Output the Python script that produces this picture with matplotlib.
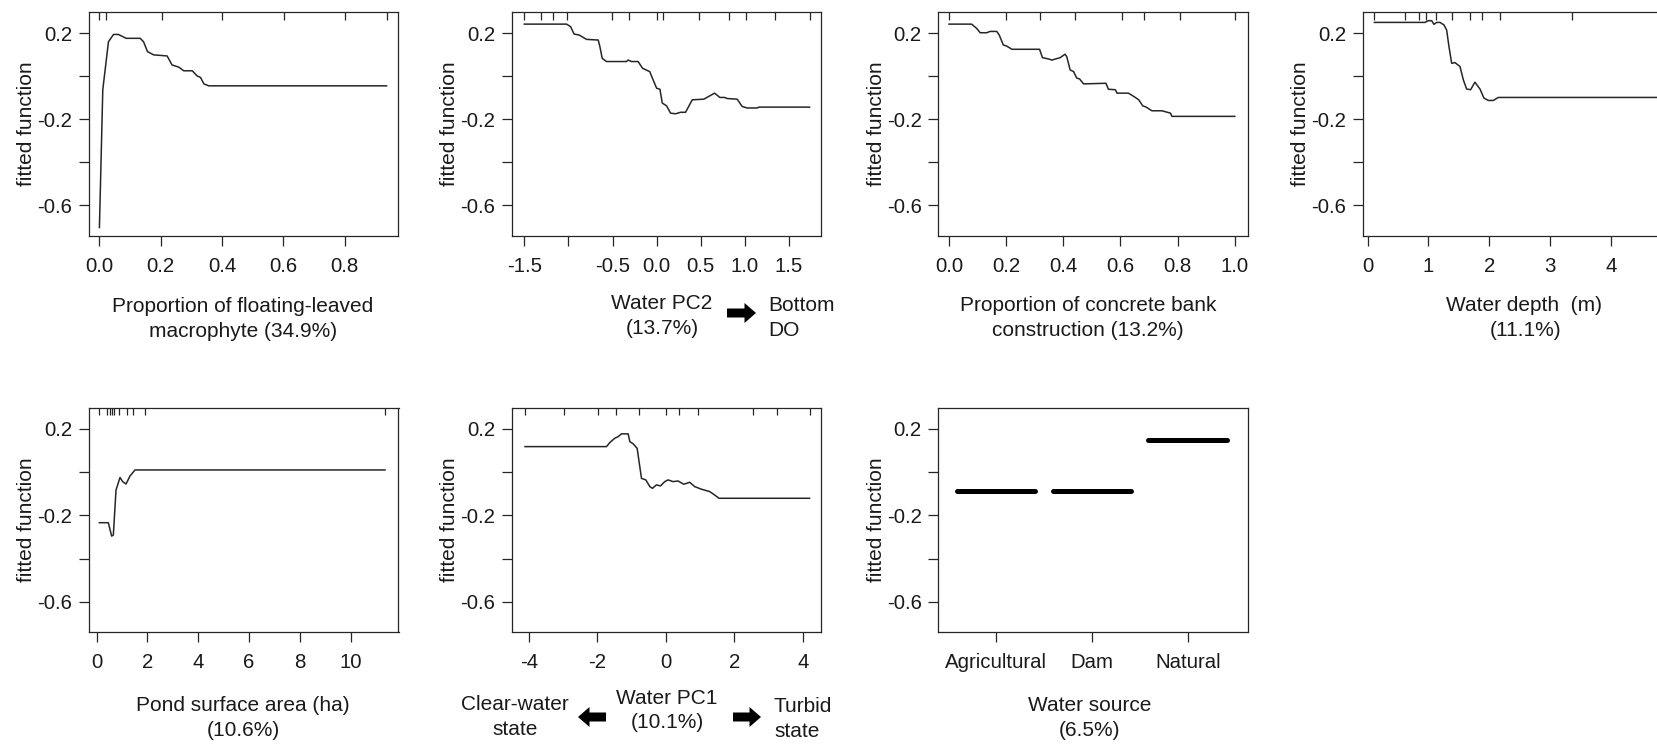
import matplotlib
matplotlib.use("Agg")
import matplotlib.pyplot as plt
from matplotlib.patches import Polygon

plt.rcParams['font.family'] = ['Liberation Sans', 'DejaVu Sans']

# ---------------- data ----------------
float_x = [0.0, 0.011, 0.0295, 0.046, 0.062, 0.087, 0.133, 0.144, 0.157, 0.177, 0.221,
           0.237, 0.259, 0.275, 0.303, 0.319, 0.33, 0.341, 0.357, 0.937]
float_y = [-0.703, -0.062, 0.161, 0.195, 0.195, 0.177, 0.177, 0.161, 0.115, 0.100, 0.095,
           0.053, 0.043, 0.026, 0.026, 0.002, -0.005, -0.035, -0.044, -0.044]
float_rug = [0.0, 0.022, 0.203, 0.401, 0.601, 0.8, 0.937]

pc2_x = [-1.5, -1.02, -0.975, -0.936, -0.877, -0.794, -0.662, -0.643, -0.617, -0.568, -0.342,
         -0.323, -0.285, -0.21, -0.16, -0.078, -0.04, 0.0, 0.038, 0.064, 0.113, 0.158, 0.215,
         0.272, 0.328, 0.404, 0.536, 0.592, 0.657, 0.717, 0.77, 0.8, 0.913, 0.97, 1.026, 1.14,
         1.16, 1.734]
pc2_y = [0.243, 0.243, 0.231, 0.197, 0.192, 0.172, 0.169, 0.138, 0.084, 0.069, 0.069,
         0.076, 0.069, 0.069, 0.038, 0.022, -0.016, -0.055, -0.06, -0.124, -0.137, -0.171, -0.174,
         -0.167, -0.167, -0.109, -0.106, -0.093, -0.078, -0.098, -0.098, -0.103, -0.106, -0.14,
         -0.147, -0.147, -0.143, -0.143]
pc2_rug = [-1.5, -1.311, -1.179, -1.02, -0.511, -0.311, 0.0, 0.075, 0.479, 0.819, 1.008, 1.34, 1.734]

conc_x = [0.0, 0.079, 0.097, 0.109, 0.132, 0.144, 0.167, 0.176, 0.19, 0.202, 0.22, 0.317, 0.327,
          0.348, 0.36, 0.389, 0.406, 0.412, 0.424, 0.436, 0.447, 0.457, 0.471, 0.549, 0.558,
          0.582, 0.588, 0.628, 0.652, 0.664, 0.678, 0.69, 0.71, 0.745, 0.775, 0.78, 1.0]
conc_y = [0.243, 0.243, 0.223, 0.203, 0.203, 0.209, 0.209, 0.192, 0.146, 0.141, 0.126, 0.126, 0.087,
          0.081, 0.076, 0.087, 0.103, 0.092, 0.03, 0.022, -0.008, -0.012, -0.035, -0.032, -0.06,
          -0.062, -0.078, -0.078, -0.098, -0.109, -0.137, -0.143, -0.16, -0.16, -0.171, -0.186, -0.186]
conc_rug = [0.0, 0.2, 0.319, 0.442, 0.605, 0.683, 0.81, 1.0]

depth_x = [0.11, 0.942, 0.997, 1.052, 1.09, 1.134, 1.189, 1.255, 1.299, 1.337, 1.381, 1.436,
           1.518, 1.573, 1.627, 1.693, 1.764, 1.847, 1.912, 1.984, 2.066, 2.148, 4.9]
depth_y = [0.251, 0.251, 0.259, 0.259, 0.242, 0.251, 0.251, 0.239, 0.215, 0.138, 0.061, 0.064,
           0.046, -0.016, -0.059, -0.062, -0.027, -0.059, -0.101, -0.112, -0.112, -0.098, -0.098]
depth_rug = [0.11, 0.614, 0.844, 0.953, 1.118, 1.392, 1.68, 1.885, 2.175, 3.355, 4.9]

area_x = [0.105, 0.459, 0.59, 0.656, 0.761, 0.919, 1.024, 1.155, 1.312, 1.509, 11.35]
area_y = [-0.234, -0.234, -0.296, -0.291, -0.083, -0.025, -0.044, -0.055, -0.018, 0.01, 0.01]
area_rug = [0.105, 0.42, 0.525, 0.617, 0.682, 0.879, 1.207, 1.444, 1.903, 11.35]

pc1_x = [-4.11, -1.73, -1.633, -1.487, -1.39, -1.293, -1.098, -1.05, -0.952, -0.836, -0.709,
         -0.583, -0.466, -0.389, -0.272, -0.155, -0.029, 0.068, 0.214, 0.36, 0.525, 0.7, 0.845,
         1.04, 1.283, 1.429, 1.555, 4.2]
pc1_y = [0.118, 0.118, 0.137, 0.157, 0.164, 0.177, 0.177, 0.141, 0.131, 0.110, -0.029,
         -0.036, -0.067, -0.075, -0.059, -0.064, -0.044, -0.036, -0.044, -0.041, -0.056, -0.047,
         -0.067, -0.079, -0.09, -0.106, -0.121, -0.121]
pc1_rug = [-4.11, -2.97, -1.99, -1.44, -0.787, 0.019, 0.389, 0.943, 2.546, 3.256, 4.2]

source_cats = ['Agricultural', 'Dam', 'Natural']
source_vals = [-0.086, -0.086, 0.149]

y_ticks = [0.2, 0.0, -0.2, -0.4, -0.6]
y_ticklabels = ['0.2', '', '-0.2', '', '-0.6']

# ---------------- layout ----------------
W, H = 1657, 744
fig = plt.figure(figsize=(W / 100, H / 100), dpi=100)
fig.patch.set_facecolor('white')

TXT = '#1a1a1a'
LINE = '#262626'
TICKFS = 14.7
LABFS = 15

col_left = [89, 511.7, 938.3, 1362.7]
ax_w = 309.5
row_top = [12.3, 407.7]
ax_h = [223.4, 224.6]
ylim = (-0.741, 0.298)


def make_ax(col, row):
    l = col_left[col] / W
    b = 1 - (row_top[row] + ax_h[row]) / H
    ax = fig.add_axes([l, b, ax_w / W, ax_h[row] / H])
    ax.set_ylim(*ylim)
    ax.set_yticks(y_ticks)
    ax.set_yticklabels(y_ticklabels)
    ax.tick_params(direction='out', length=7, width=0.9, colors=LINE,
                   labelcolor=TXT, labelsize=TICKFS)
    ax.tick_params(axis='x', pad=8)
    ax.tick_params(axis='y', pad=5)
    for s in ax.spines.values():
        s.set_linewidth(0.9)
        s.set_color(LINE)
    ax.set_ylabel('fitted function', fontsize=LABFS, color=TXT)
    ax.yaxis.set_label_coords(-0.17, 0.5)
    return ax


def rug(ax, vals):
    ax.vlines(vals, 1 - 7.5 / 224, 1, transform=ax.get_xaxis_transform(),
              color=LINE, lw=0.9, clip_on=False)


def ftext(x_px, yc_px, s, ha='center'):
    fig.text(x_px / W, 1 - (yc_px + 7.4) / H, s, ha=ha, va='baseline',
             fontsize=LABFS, color=TXT)


def farrow(x0, x1, yc, head_len=11.5, head_half=10, tail_half=4.5):
    # block arrow drawn in figure pixels, pointing from x0 to x1
    d = 1 if x1 > x0 else -1
    xh = x1 - d * head_len
    pts_px = [(x0, yc - tail_half), (xh, yc - tail_half), (xh, yc - head_half),
              (x1, yc), (xh, yc + head_half), (xh, yc + tail_half), (x0, yc + tail_half)]
    pts = [(px / W, 1 - py / H) for px, py in pts_px]
    fig.patches.append(Polygon(pts, closed=True, transform=fig.transFigure,
                               facecolor='black', edgecolor='none'))


# Panel 1
ax = make_ax(0, 0)
ax.plot(float_x, float_y, color=LINE, lw=1.1)
rug(ax, float_rug)
ax.set_xlim(-0.034, 0.976)
ax.set_xticks([0.0, 0.2, 0.4, 0.6, 0.8])
ax.set_xticklabels(['0.0', '0.2', '0.4', '0.6', '0.8'])
ftext(243, 305, 'Proportion of floating-leaved')
ftext(243, 330, 'macrophyte (34.9%)')

# Panel 2
ax = make_ax(1, 0)
ax.plot(pc2_x, pc2_y, color=LINE, lw=1.1)
rug(ax, pc2_rug)
ax.set_xlim(-1.643, 1.866)
ax.set_xticks([-1.5, -1.0, -0.5, 0.0, 0.5, 1.0, 1.5])
ax.set_xticklabels(['-1.5', '', '-0.5', '0.0', '0.5', '1.0', '1.5'])
ftext(662, 302, 'Water PC2')
ftext(662, 327, '(13.7%)')
farrow(727, 756, 313)
ftext(768, 304, 'Bottom', ha='left')
ftext(768, 329, 'DO', ha='left')

# Panel 3
ax = make_ax(2, 0)
ax.plot(conc_x, conc_y, color=LINE, lw=1.1)
rug(ax, conc_rug)
ax.set_xlim(-0.0374, 1.0456)
ax.set_xticks([0.0, 0.2, 0.4, 0.6, 0.8, 1.0])
ax.set_xticklabels(['0.0', '0.2', '0.4', '0.6', '0.8', '1.0'])
ftext(1088, 304, 'Proportion of concrete bank')
ftext(1088, 329, 'construction (13.2%)')

# Panel 4 (cut off at right edge in the reference)
ax = make_ax(3, 0)
ax.plot(depth_x, depth_y, color=LINE, lw=1.1)
rug(ax, depth_rug)
ax.set_xlim(-0.082, 5.008)
ax.set_xticks([0, 1, 2, 3, 4])
ax.set_xticklabels(['0', '1', '2', '3', '4'])
ftext(1524, 304, 'Water depth  (m)')
ftext(1526, 329, '(11.1%)')

# Panel 5
ax = make_ax(0, 1)
ax.plot(area_x, area_y, color=LINE, lw=1.1)
rug(ax, area_rug)
ax.set_xlim(-0.302, 11.88)
ax.set_xticks([0, 2, 4, 6, 8, 10])
ax.set_xticklabels(['0', '2', '4', '6', '8', '10'])
ftext(243, 704, 'Pond surface area (ha)')
ftext(243, 729, '(10.6%)')

# Panel 6
ax = make_ax(1, 1)
ax.plot(pc1_x, pc1_y, color=LINE, lw=1.1)
rug(ax, pc1_rug)
ax.set_xlim(-4.5, 4.54)
ax.set_xticks([-4, -2, 0, 2, 4])
ax.set_xticklabels(['-4', '-2', '0', '2', '4'])
ftext(667, 697, 'Water PC1')
ftext(667, 721, '(10.1%)')
ftext(515, 703, 'Clear-water')
ftext(515, 728, 'state')
farrow(606, 578, 717)
farrow(733, 761, 717)
ftext(774, 705, 'Turbid', ha='left')
ftext(774, 730, 'state', ha='left')

# Panel 7 (factor)
ax = make_ax(2, 1)
pos = list(range(1, len(source_cats) + 1))
for p, v in zip(pos, source_vals):
    ax.plot([p - 0.41, p + 0.41], [v, v], color='black', lw=3.6, solid_capstyle='round')
ax.set_xlim(0.397, 3.627)
ax.set_xticks(pos)
ax.set_xticklabels(source_cats)
ftext(1090, 704, 'Water source')
ftext(1090, 729, '(6.5%)')

fig.savefig('out.png', dpi=100, facecolor='white')
